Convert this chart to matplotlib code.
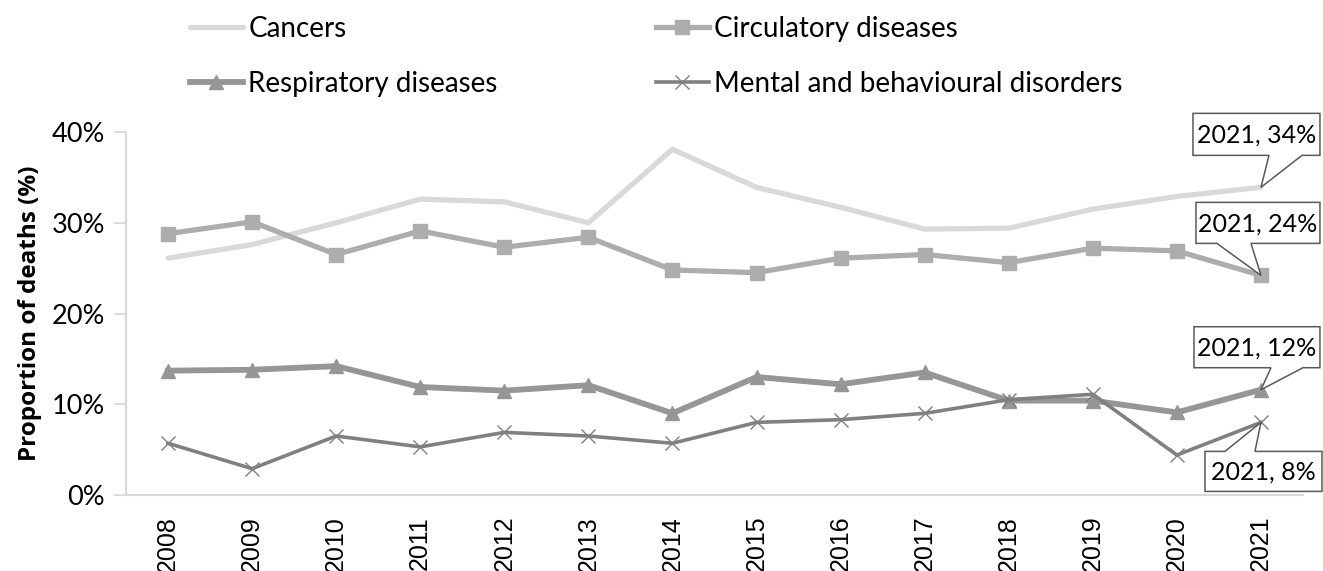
#!/usr/bin/env python3

import matplotlib
matplotlib.use("Agg")
import matplotlib.pyplot as plt
import matplotlib.transforms as mtransforms
from matplotlib.patches import Polygon
from matplotlib.ticker import FuncFormatter

#data, proportion of deaths in %
years = [2008, 2009, 2010, 2011, 2012, 2013, 2014, 2015, 2016, 2017, 2018, 2019, 2020, 2021]
cancers = [26.1, 27.6, 30.0, 32.6, 32.3, 30.0, 38.1, 33.9, 31.7, 29.3, 29.4, 31.5, 32.9, 33.9]
circulatory = [28.8, 30.1, 26.5, 29.1, 27.3, 28.4, 24.8, 24.5, 26.1, 26.5, 25.6, 27.2, 26.9, 24.2]
respiratory = [13.7, 13.8, 14.2, 11.9, 11.5, 12.1, 9.0, 13.0, 12.2, 13.5, 10.4, 10.4, 9.1, 11.6]
mental = [5.7, 2.9, 6.5, 5.3, 6.9, 6.5, 5.7, 8.0, 8.3, 9.0, 10.5, 11.1, 4.4, 8.0]

series_names = ["Cancers", "Circulatory diseases", "Respiratory diseases", "Mental and behavioural disorders"]
y_ticks = [0, 10, 20, 30, 40]

FONT = "Lato"
AXIS_GREY = "#D9D9D9"


def callout(ax, x, y, text, left, right, near, far, base0, base1):
    #box + pointer drawn as one shape, offsets in pixels from the data point
    px = ax.figure.dpi / 100.0
    trans = mtransforms.Affine2D().scale(px) + mtransforms.ScaledTranslation(x, y, ax.transData)
    verts = [(left, near), (base0, near), (0, 0), (base1, near), (right, near), (right, far), (left, far)]
    poly = Polygon(verts, closed=True, transform=trans, facecolor="white", edgecolor="#595959",
                   linewidth=1.1, clip_on=False, zorder=10)
    ax.add_patch(poly)
    ax.text((left + right) / 2, (near + far) / 2 - 1, text, transform=trans, ha="center", va="center",
            fontsize=18, family=FONT, color="black", zorder=11, clip_on=False)


def main():

    fig = plt.figure(figsize=(13.23, 5.71), dpi=100)
    ax = fig.add_axes([126 / 1323, 1 - 495 / 571, (1303 - 126) / 1323, (495 - 132) / 571])

    xs = list(range(len(years)))

    #series, drawn in the same order as the original
    l1, = ax.plot(xs, cancers, color="#D9D9D9", lw=3.8, solid_capstyle="round", zorder=3)
    l2, = ax.plot(xs, circulatory, color="#ADADAD", lw=3.8, marker="s", ms=10, zorder=4)
    l3, = ax.plot(xs, respiratory, color="#969696", lw=4.2, marker="^", ms=10, zorder=5)
    l4, = ax.plot(xs, mental, color="#808080", lw=2.6, marker="x", ms=10, mew=1.0, zorder=6)

    #axes styling
    ax.set_xlim(-0.5, len(years) - 0.5)
    ax.set_ylim(0, 40)
    ax.set_yticks(y_ticks)
    ax.yaxis.set_major_formatter(FuncFormatter(lambda v, p: "%d%%" % v))
    ax.set_xticks(xs)
    ax.set_xticklabels([str(y) for y in years], rotation=90, family="Liberation Sans", fontsize=18)
    for lab in ax.get_yticklabels():
        lab.set_family(FONT)
        lab.set_fontsize(19.5)
    ax.tick_params(axis="x", length=0, pad=15)
    ax.tick_params(axis="y", length=9, width=1.3, color=AXIS_GREY, pad=6)

    for side in ["top", "right"]:
        ax.spines[side].set_visible(False)
    for side in ["left", "bottom"]:
        ax.spines[side].set_color(AXIS_GREY)
        ax.spines[side].set_linewidth(1.6)

    ax.set_ylabel("Proportion of deaths (%)", family="Open Sans", fontweight="bold", fontsize=17.5, labelpad=7)

    #legend in two fixed columns
    leg_kw = dict(frameon=False, prop={"family": FONT, "size": 20}, handlelength=1.9, handletextpad=0.2,
                  labelspacing=1.05, borderaxespad=0, borderpad=0)
    fig.legend([l1, l3], [series_names[0], series_names[2]], loc="upper left",
               bbox_to_anchor=(190 / 1323, 1 - 16 / 571), **leg_kw)
    fig.legend([l2, l4], [series_names[1], series_names[3]], loc="upper left",
               bbox_to_anchor=(656 / 1323, 1 - 16 / 571), **leg_kw)

    #data labels for the last year
    last = len(years) - 1
    callout(ax, last, cancers[-1], "%d, %d%%" % (years[-1], round(cancers[-1])), -68, 59, 32, 74, 8, 41)
    callout(ax, last, circulatory[-1], "%d, %d%%" % (years[-1], round(circulatory[-1])), -65, 59, 32, 73, -44, -10)
    callout(ax, last, respiratory[-1], "%d, %d%%" % (years[-1], round(respiratory[-1])), -67, 59, 22, 63, 10, 42)
    callout(ax, last, mental[-1], "%d, %d%%" % (years[-1], round(mental[-1])), -56, 61, -29, -69, -36, -6)

    plt.savefig("out.png", dpi=100)


if __name__ == "__main__":
    main()
